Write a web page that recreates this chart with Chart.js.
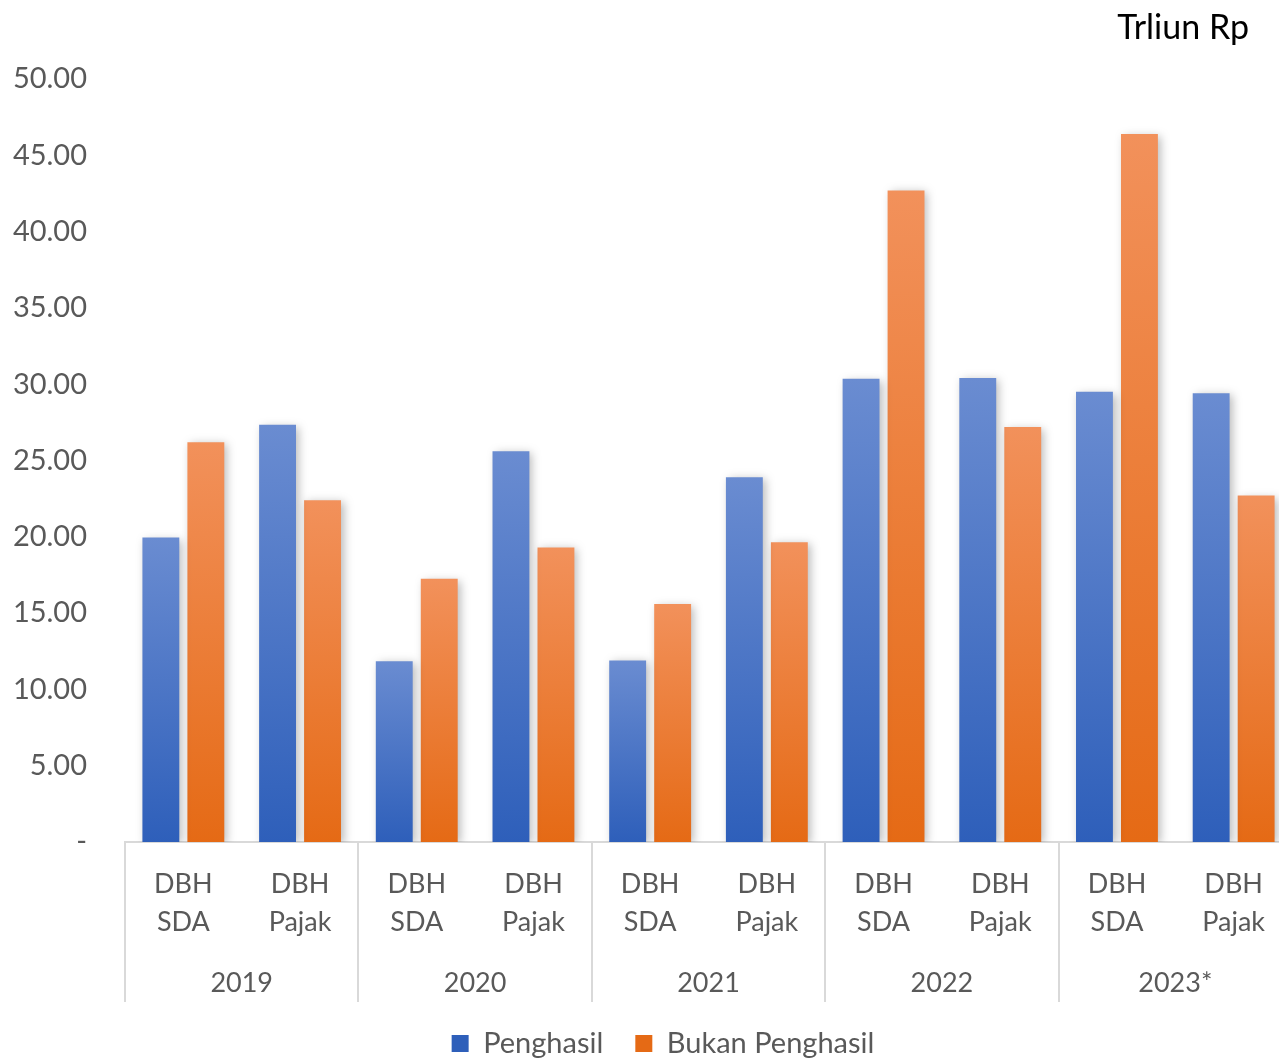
<!DOCTYPE html>
<html>
<head>
<meta charset="utf-8">
<script src="https://cdn.jsdelivr.net/npm/chart.js@4.4.0/dist/chart.umd.min.js"></script>
<style>
  html, body { margin: 0; padding: 0; background: #fff; overflow: hidden; }
  #wrap { width: 1279px; height: 1058px; overflow: hidden; }
</style>
</head>
<body>
<div id="wrap"><canvas id="chart" width="1292" height="1068"></canvas></div>
<script>
// data
const categories = [
  ['DBH', 'SDA'], ['DBH', 'Pajak'],
  ['DBH', 'SDA'], ['DBH', 'Pajak'],
  ['DBH', 'SDA'], ['DBH', 'Pajak'],
  ['DBH', 'SDA'], ['DBH', 'Pajak'],
  ['DBH', 'SDA'], ['DBH', 'Pajak']
];
const years = ['2019', '2020', '2021', '2022', '2023*'];
const penghasil = [19.95, 27.35, 11.85, 25.6, 11.9, 23.9, 30.35, 30.4, 29.5, 29.4];
const bukanPenghasil = [26.2, 22.4, 17.25, 19.3, 15.6, 19.65, 42.7, 27.2, 46.4, 22.7];
const yMin = 0, yMax = 50, yStep = 5;
const unitLabel = 'Trliun Rp';

const FONT = 'Lato, "Noto Sans", sans-serif';
const TXT = '#595959';

// gradient per bar, lighter on top
function barFill(top, bottom, solid) {
  return function (context) {
    if (context.type !== 'data') return solid;
    const chart = context.chart;
    const area = chart.chartArea;
    if (!area) return solid;
    const y0 = chart.scales.y.getPixelForValue(context.raw);
    const g = chart.ctx.createLinearGradient(0, y0, 0, area.bottom);
    g.addColorStop(0, top);
    g.addColorStop(1, bottom);
    return g;
  };
}

// shadow behind bars
const shadowPlugin = {
  id: 'barShadow',
  beforeDatasetsDraw(chart) {
    const ctx = chart.ctx;
    ctx.save();
    ctx.shadowColor = 'rgba(0,0,0,0.28)';
    ctx.shadowBlur = 9;
    ctx.shadowOffsetX = 3;
    ctx.shadowOffsetY = 2;
  },
  afterDatasetsDraw(chart) {
    chart.ctx.restore();
  }
};

// legend is centred a bit to the right in the original
const legendShift = {
  id: 'legendShift',
  afterLayout(chart) {
    if (chart.legend) chart.legend.left += 34;
  }
};

// year row + separators + unit label
const groupPlugin = {
  id: 'groups',
  afterDraw(chart) {
    const x = chart.scales.x;
    const ctx = chart.ctx;
    const half = (x.getPixelForValue(1) - x.getPixelForValue(0)) / 2;
    ctx.save();
    ctx.strokeStyle = '#D9D9D9';
    ctx.lineWidth = 2;
    for (let g = 0; g <= years.length; g++) {
      const px = Math.round(x.getPixelForValue(g * 2) - half);
      ctx.beginPath();
      ctx.moveTo(px, x.top);
      ctx.lineTo(px, x.top + 160);
      ctx.stroke();
    }
    ctx.fillStyle = TXT;
    ctx.font = '27px ' + FONT;
    ctx.textAlign = 'center';
    ctx.textBaseline = 'middle';
    years.forEach((yr, g) => {
      const px = (x.getPixelForValue(2 * g) + x.getPixelForValue(2 * g + 1)) / 2;
      ctx.fillText(yr, px, x.top + 141);
    });
    ctx.fillStyle = '#000';
    ctx.font = '34px ' + FONT;
    ctx.textAlign = 'right';
    ctx.fillText(unitLabel, 1249, 28);
    ctx.restore();
  }
};

new Chart(document.getElementById('chart'), {
  type: 'bar',
  data: {
    labels: categories,
    datasets: [
      {
        label: 'Penghasil',
        data: penghasil,
        backgroundColor: barFill('#6A8CD1', '#2E5FBA', '#4472C4')
      },
      {
        label: 'Bukan Penghasil',
        data: bukanPenghasil,
        backgroundColor: barFill('#F2915B', '#E56A15', '#ED7D31')
      }
    ]
  },
  options: {
    responsive: false,
    animation: false,
    categoryPercentage: 0.771,
    barPercentage: 0.82,
    layout: { padding: { top: 79, left: 0, right: 0, bottom: 0 } },
    plugins: {
      legend: {
        position: 'bottom',
        labels: {
          font: { family: FONT, size: 29 },
          color: TXT,
          boxWidth: 17,
          boxHeight: 17,
          padding: 32
        }
      },
      tooltip: { enabled: false }
    },
    scales: {
      x: {
        grid: { display: false },
        border: { display: true, color: '#D9D9D9', width: 2 },
        ticks: {
          color: TXT,
          font: { family: FONT, size: 27, lineHeight: 1.41 },
          padding: 15,
          maxRotation: 0,
          autoSkip: false
        },
        afterFit(scale) { scale.height = 155; }
      },
      y: {
        min: yMin,
        max: yMax,
        grid: { display: false },
        border: { display: false },
        ticks: {
          stepSize: yStep,
          color: TXT,
          font: { family: FONT, size: 29 },
          padding: 30,
          callback: v => (v === 0 ? '-' : v.toFixed(2))
        },
        afterFit(scale) { scale.width = 125; }
      }
    }
  },
  plugins: [shadowPlugin, legendShift, groupPlugin]
});
</script>
</body>
</html>
